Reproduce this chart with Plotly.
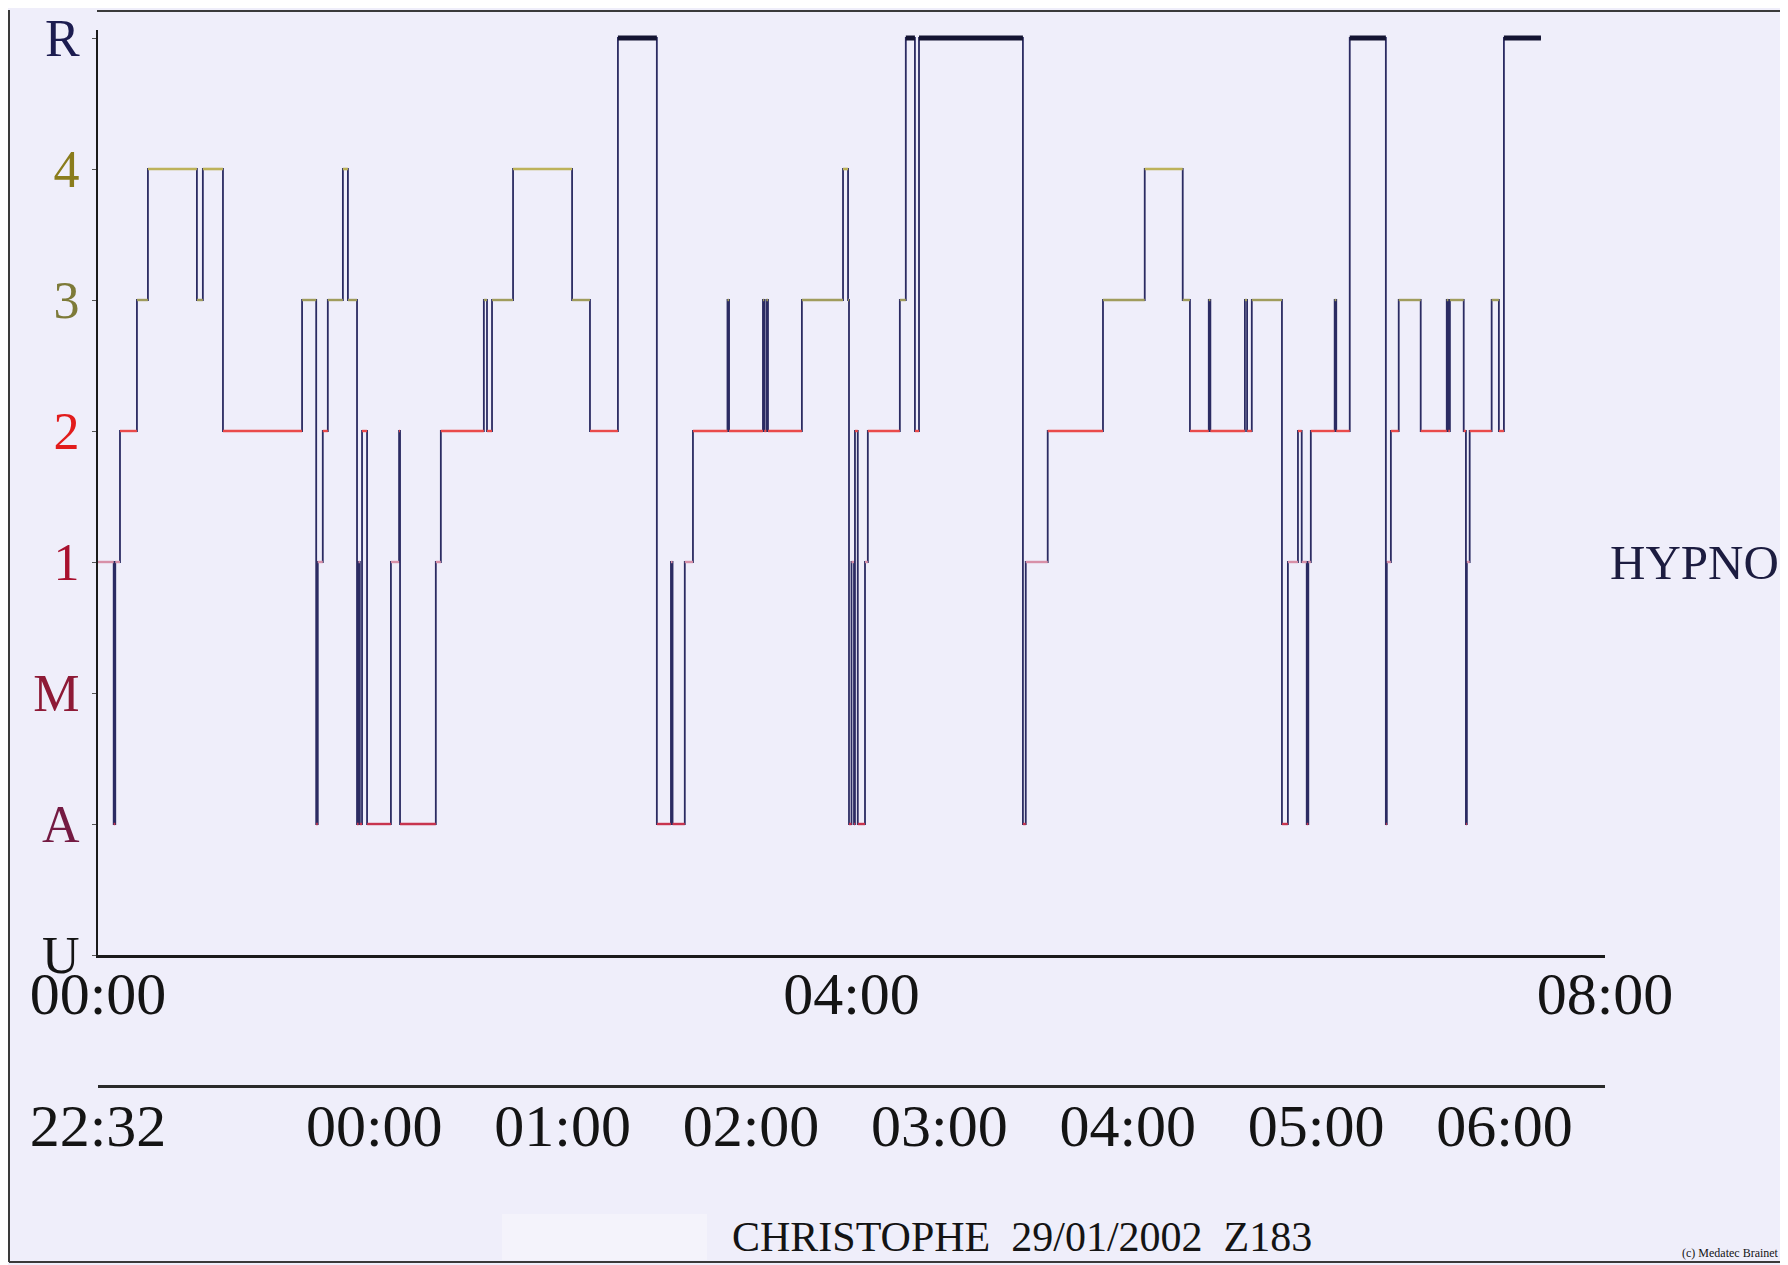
import plotly.graph_objects as go

# ---------------- data (minutes since recording start 22:32) ----------------
stage_order = ["U", "A", "M", "1", "2", "3", "4", "R"]

onset_min = [0, 5.0, 5.5, 7.0, 12.4, 15.9, 31.5, 33.4, 39.8, 65.0, 69.5, 70.0, 71.6,
             73.2, 78.0, 79.6, 82.5, 83.0, 83.4, 84.1, 85.7, 93.3, 95.9, 96.2, 107.6,
             109.2, 122.9, 123.9, 125.5, 132.2, 151.0, 156.7, 165.6, 178.0, 182.5,
             183.0, 186.9, 189.5, 200.5, 201.0, 211.8, 212.2, 212.9, 213.4, 224.2,
             237.3, 238.9, 239.2, 240.0, 240.8, 241.1, 242.0, 244.3, 245.2, 255.4,
             257.3, 260.2, 261.5, 294.6, 295.5, 302.5, 320.1, 333.4, 345.5, 347.8,
             353.8, 354.3, 365.3, 366.0, 367.5, 377.1, 379.0, 382.2, 383.4, 385.0,
             385.5, 386.3, 393.9, 394.4, 398.7, 410.2, 410.5, 411.8, 414.3, 421.3,
             429.6, 430.1, 430.6, 435.0, 435.7, 436.0, 436.9, 443.9, 446.2, 447.8]

stages = ["1", "A", "1", "2", "3", "4", "3", "4", "2", "3", "A", "1", "2",
          "3", "4", "3", "A", "1", "A", "2", "A", "1", "2", "A", "1",
          "2", "3", "2", "3", "4", "3", "2", "R", "A", "1",
          "A", "1", "2", "3", "2", "3", "2", "3", "2", "3",
          "4", "3", "A", "1", "A", "2", "A", "1", "2", "3",
          "R", "2", "R", "A", "1", "2", "3", "4", "3", "2",
          "3", "2", "3", "2", "3", "A", "1", "2", "1", "A",
          "1", "2", "3", "2", "R", "A", "1", "2", "3", "2",
          "3", "2", "3", "2", "A", "1", "2", "3", "2", "R"]

record_end_min = 459.6

elapsed_tick_min = [0, 240, 480]
elapsed_tick_text = ["00:00", "04:00", "08:00"]

clock_tick_min = [0, 88, 148, 208, 268, 328, 388, 448]
clock_tick_text = ["22:32", "00:00", "01:00", "02:00", "03:00", "04:00", "05:00", "06:00"]

stage_label_colors = {"U": "#141414", "A": "#741a42", "M": "#8e1a36", "1": "#a8102e",
                      "2": "#e21c1c", "3": "#7d7a38", "4": "#8a7c1c", "R": "#1c1c50"}
stage_line_colors = {"U": "#2b2b62", "A": "#c8344e", "M": "#c8344e", "1": "#d890a8",
                     "2": "#ea4a4a", "3": "#a09c5c", "4": "#bdb25a", "R": "#141432"}
stage_line_widths = {"U": 2, "A": 2.4, "M": 2.4, "1": 2.4, "2": 2.4, "3": 2.4, "4": 2.6, "R": 5}

# ---------------- geometry (screen pixels; the page body adds an 8 px offset) ----------------
OFF = 8
SCR_W, SCR_H = 1788, 1265
W, H = SCR_W - OFF, SCR_H - OFF
# plot area in screen pixels: left 98, right 1605, top 30, bottom (clock axis) 1086
ML = 98 - OFF
MR = SCR_W - 1605
MT = 30 - OFF
MB = SCR_H - 1086
PW, PH = W - ML - MR, H - MT - MB
Y_U, Y_R = 955, 38          # screen rows of the U and R stage levels
STEP = (Y_U - Y_R) / 7.0


def px(x):
    return (x - OFF - ML) / PW


def py(y):
    return (H - MB - (y - OFF)) / PH


level = {s: i for i, s in enumerate(stage_order)}
FONT = "Liberation Serif, Times New Roman, serif"

fig = go.Figure()

# full step path (vertical transitions in navy)
xs = list(onset_min) + [record_end_min]
ys = [level[s] for s in stages] + [level[stages[-1]]]
fig.add_trace(go.Scatter(x=xs, y=ys, mode="lines",
                         line=dict(shape="hv", color="#2b2b62", width=1.8),
                         hoverinfo="skip", showlegend=False))

# coloured horizontal plateaus per stage
ends = list(onset_min[1:]) + [record_end_min]
for s in stage_order:
    hx, hy = [], []
    for t0, t1, st in zip(onset_min, ends, stages):
        if st == s:
            hx += [t0, t1, None]
            hy += [level[s], level[s], None]
    if hx:
        fig.add_trace(go.Scatter(x=hx, y=hy, mode="lines",
                                 line=dict(color=stage_line_colors[s], width=stage_line_widths[s]),
                                 hoverinfo="skip", showlegend=False))

# empty trace so the clock-time axis is instantiated
fig.add_trace(go.Scatter(x=[clock_tick_min[0], clock_tick_min[-1]], y=[None, None],
                         xaxis="x2", yaxis="y", mode="lines", showlegend=False,
                         hoverinfo="skip"))

y_ticktext = [f"<span style='color:{stage_label_colors[s]}'>{s}</span>" for s in stage_order]

y_dom0 = py(Y_U)
y_top = 7 + (Y_R - 30) / STEP

fig.update_layout(
    width=W, height=H,
    margin=dict(l=ML, r=MR, t=MT, b=MB, pad=0, autoexpand=False),
    paper_bgcolor="#efeefa", plot_bgcolor="#efeefa",
    font=dict(family=FONT, color="#141414"),
    showlegend=False,
    xaxis=dict(range=[0, 480], anchor="y", showline=True, linecolor="#1a1a1a", linewidth=2.5,
               showgrid=False, zeroline=False, ticks="", automargin=False,
               tickvals=elapsed_tick_min, ticktext=elapsed_tick_text, ticklabeloverflow="allow",
               tickfont=dict(size=60, family=FONT, color="#141414"), ticklabelstandoff=-16),
    xaxis2=dict(range=[0, 480], anchor="free", position=0, overlaying="x", side="bottom",
                showline=True, linecolor="#2a2a2a", linewidth=2.5, showgrid=False,
                zeroline=False, ticks="", automargin=False, ticklabeloverflow="allow",
                tickvals=clock_tick_min, ticktext=clock_tick_text,
                tickfont=dict(size=60, family=FONT, color="#141414"), ticklabelstandoff=-14),
    yaxis=dict(domain=[y_dom0, 1], range=[0, y_top], showline=True,
               linecolor="#1a1a1a", linewidth=2, showgrid=False, zeroline=False,
               ticks="outside", ticklen=4, tickcolor="#555", automargin=False,
               ticklabeloverflow="allow",
               tickvals=list(range(len(stage_order))), ticktext=y_ticktext,
               tickfont=dict(size=52, family=FONT), ticklabelstandoff=2),
)

# page frame (scanned sheet border), screen pixels
frame = [
    (9, 10, 9, 1262),
    (97, 11, 1788, 11),
    (1784, 11, 1784, 1262),
    (9, 1262, 1784, 1262),
]
for x0, y0, x1, y1 in frame:
    fig.add_shape(type="line", xref="paper", yref="paper",
                  x0=px(x0), y0=py(y0), x1=px(x1), y1=py(y1),
                  line=dict(color="#3a3a3a", width=2))

# faint white patch left of the patient line
fig.add_shape(type="rect", xref="paper", yref="paper",
              x0=px(502), y0=py(1214), x1=px(707), y1=py(1260),
              fillcolor="rgba(255,255,255,0.3)", line=dict(width=0), layer="below")

fig.add_annotation(text="HYPNO", xref="paper", yref="y", x=px(1608), y=level["1"],
                   xanchor="left", yanchor="middle", showarrow=False,
                   font=dict(size=49, family=FONT, color="#1c1c40"))
fig.add_annotation(text="CHRISTOPHE&nbsp;&nbsp;29/01/2002&nbsp;&nbsp;Z183", xref="paper", yref="paper",
                   x=px(1022), y=py(1237), xanchor="center", yanchor="middle", showarrow=False,
                   font=dict(size=42, family=FONT, color="#141414"))
fig.add_annotation(text="(c) Medatec Brainet", xref="paper", yref="paper",
                   x=px(1781), y=py(1253), xanchor="right", yanchor="middle", showarrow=False,
                   font=dict(size=12, family=FONT, color="#141414"))

fig.write_html("out.html")
